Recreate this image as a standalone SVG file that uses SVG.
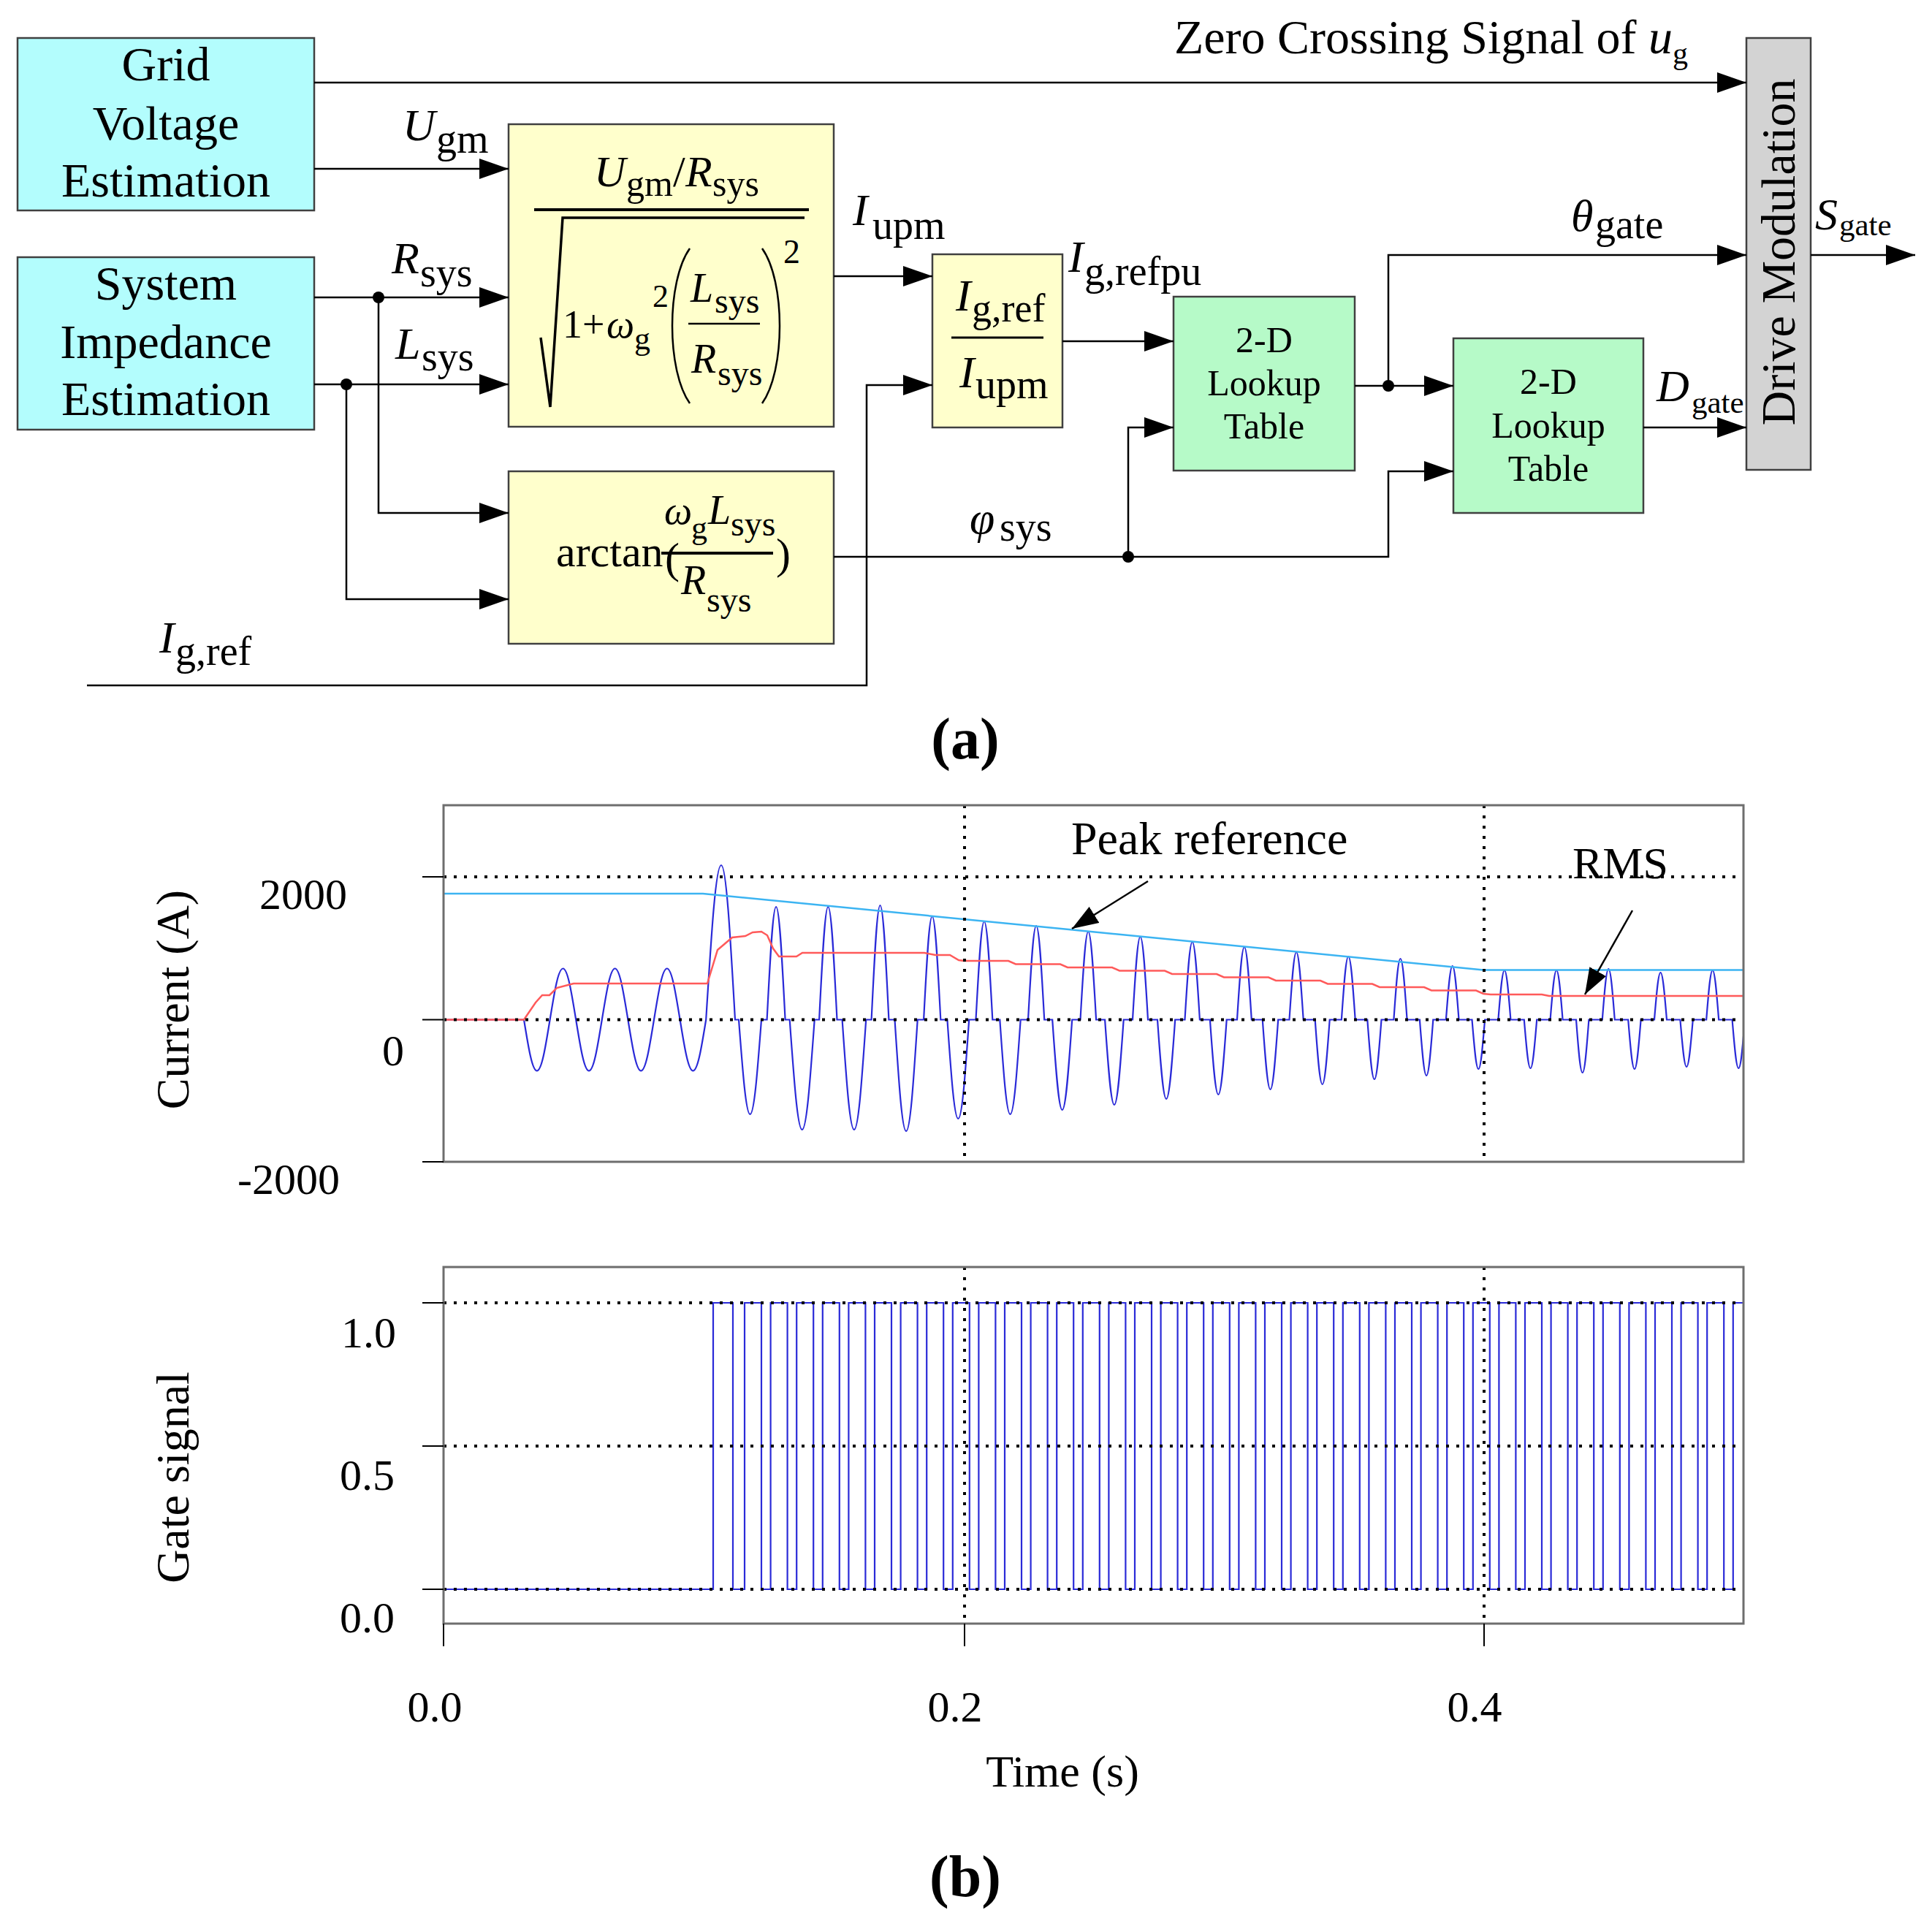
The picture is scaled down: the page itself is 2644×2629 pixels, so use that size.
<svg xmlns="http://www.w3.org/2000/svg" width="2644" height="2629" viewBox="0 0 2644 2629">
<style>
text{font-family:"Liberation Serif","Times New Roman",serif;fill:#000}
.lbl{font-size:66px}
.v{font-size:62px;font-style:italic}
.s{font-size:56px;font-style:normal}
.c{text-anchor:middle}
.cyan{fill:#b3fdfd;stroke:#404040;stroke-width:2.5}
.yel{fill:#ffffcc;stroke:#404040;stroke-width:2.5}
.grn{fill:#b6fac8;stroke:#404040;stroke-width:2.5}
.gry{fill:#d3d3d3;stroke:#404040;stroke-width:2.5}
.wire{fill:none;stroke:#000;stroke-width:2.5}
.arr{marker-end:url(#ah)}
.arr2{marker-end:url(#ah2)}
.frame{fill:none;stroke:#6e6e6e;stroke-width:3}
.grid{fill:none;stroke:#000;stroke-width:4;stroke-dasharray:4 10}
.tick{fill:none;stroke:#000;stroke-width:2}
.eq{fill:none;stroke:#000}
</style>
<defs>
<marker id="ah" markerUnits="userSpaceOnUse" markerWidth="40" markerHeight="28" refX="40" refY="14" orient="auto" viewBox="0 0 40 28"><path d="M0,0 L40,14 L0,28 Z" fill="#000"/></marker>
<marker id="ah2" markerUnits="userSpaceOnUse" markerWidth="36" markerHeight="26" refX="36" refY="13" orient="auto" viewBox="0 0 36 26"><path d="M0,0 L36,13 L0,26 Z" fill="#000"/></marker>
<clipPath id="clip1"><rect x="607" y="1102" width="1779" height="488"/></clipPath>
<clipPath id="clip2"><rect x="607" y="1734" width="1779" height="488"/></clipPath>
</defs>
<rect x="0" y="0" width="2644" height="2629" fill="#fff"/>

<!-- ===== Part (a): block diagram ===== -->
<g id="grid-voltage-estimation">
<rect class="cyan" x="24" y="52" width="406" height="236"/>
<text class="lbl c" x="227" y="110">Grid</text>
<text class="lbl c" x="227" y="191">Voltage</text>
<text class="lbl c" x="227" y="269">Estimation</text>
</g>
<g id="system-impedance-estimation">
<rect class="cyan" x="24" y="352" width="406" height="236"/>
<text class="lbl c" x="227" y="410">System</text>
<text class="lbl c" x="227" y="490">Impedance</text>
<text class="lbl c" x="227" y="568">Estimation</text>
</g>
<g id="peak-current-block">
<rect class="yel" x="696" y="170" width="445" height="414"/>
<text font-size="60"><tspan x="813" y="255" font-style="italic">U</tspan><tspan x="857" y="268" font-size="50">gm</tspan><tspan x="921" y="255">/</tspan><tspan x="938" y="255" font-style="italic">R</tspan><tspan x="975" y="268" font-size="50">sys</tspan></text>
<line class="eq" x1="731" y1="287" x2="1107" y2="287" stroke-width="4"/>
<polyline class="eq" points="740,462 753,557 770,298 1101,298" stroke-width="3.5"/>
<text font-size="54"><tspan x="770" y="462">1+</tspan><tspan x="830" y="462" font-style="italic">ω</tspan><tspan x="868" y="478" font-size="44">g</tspan><tspan x="893" y="420" font-size="44">2</tspan></text>
<path class="eq" d="M944,340 C912,385 912,507 944,552" stroke-width="2.5"/>
<path class="eq" d="M1043,340 C1075,385 1075,507 1043,552" stroke-width="2.5"/>
<text x="1072" y="360" font-size="46">2</text>
<text font-size="56"><tspan x="945" y="413" font-style="italic">L</tspan><tspan x="978" y="428" font-size="48">sys</tspan></text>
<line class="eq" x1="942" y1="443" x2="1040" y2="443" stroke-width="2.5"/>
<text font-size="56"><tspan x="946" y="510" font-style="italic">R</tspan><tspan x="982" y="527" font-size="48">sys</tspan></text>
</g>
<g id="phase-angle-block">
<rect class="yel" x="696" y="645" width="445" height="236"/>
<text font-size="60"><tspan x="761" y="775">arctan</tspan><tspan x="910" y="784">(</tspan><tspan x="1062" y="778">)</tspan></text>
<text font-size="54"><tspan x="909" y="717" font-style="italic">ω</tspan><tspan x="946" y="737" font-size="44">g</tspan><tspan x="969" y="717" font-size="56" font-style="italic">L</tspan><tspan x="1000" y="733" font-size="48">sys</tspan></text>
<line class="eq" x1="905" y1="757" x2="1058" y2="757" stroke-width="4"/>
<text font-size="56"><tspan x="932" y="813" font-style="italic">R</tspan><tspan x="967" y="837" font-size="48">sys</tspan></text>
</g>
<g id="per-unit-block">
<rect class="yel" x="1276" y="348" width="178" height="237"/>
<text class="v"><tspan x="1308" y="425">I</tspan><tspan x="1330" y="440" font-size="54" font-style="normal">g,ref</tspan></text>
<line class="eq" x1="1302" y1="462" x2="1428" y2="462" stroke-width="3"/>
<text class="v"><tspan x="1313" y="530">I</tspan><tspan class="s" x="1335" y="545">upm</tspan></text>
</g>
<g id="lookup-table-1">
<rect class="grn" x="1606" y="406" width="248" height="238"/>
<text class="c" x="1730" y="482" font-size="50">2-D</text>
<text class="c" x="1730" y="541" font-size="50">Lookup</text>
<text class="c" x="1730" y="600" font-size="50">Table</text>
</g>
<g id="lookup-table-2">
<rect class="grn" x="1989" y="463" width="260" height="239"/>
<text class="c" x="2119" y="539" font-size="50">2-D</text>
<text class="c" x="2119" y="599" font-size="50">Lookup</text>
<text class="c" x="2119" y="658" font-size="50">Table</text>
</g>
<g id="drive-modulation">
<rect class="gry" x="2390" y="52" width="88" height="591"/>
<text class="lbl c" transform="translate(2456,345) rotate(-90)" x="0" y="0">Drive Modulation</text>
</g>

<g id="connectors">
<path class="wire arr" d="M430,113 H2390"/>
<path class="wire arr" d="M430,231 H696"/>
<path class="wire arr" d="M430,407 H696"/>
<path class="wire arr" d="M430,526 H696"/>
<path class="wire arr" d="M518,407 V702 H696"/>
<path class="wire arr" d="M474,526 V820 H696"/>
<path class="wire arr" d="M1141,378 H1276"/>
<path class="wire arr" d="M119,938 H1186 V527 H1276"/>
<path class="wire arr" d="M1454,467 H1606"/>
<path class="wire arr" d="M1141,762 H1900 V645 H1989"/>
<path class="wire arr" d="M1544,762 V585 H1606"/>
<path class="wire arr" d="M1854,528 H1989"/>
<path class="wire arr" d="M1900,528 V349 H2390"/>
<path class="wire arr" d="M2249,585 H2390"/>
<path class="wire arr" d="M2478,349 H2621"/>
<circle cx="518" cy="407" r="8"/>
<circle cx="474" cy="526" r="8"/>
<circle cx="1544" cy="762" r="8"/>
<circle cx="1900" cy="528" r="8"/>
</g>

<g id="signal-labels">
<text class="lbl" x="1607" y="73">Zero Crossing Signal of <tspan font-style="italic">u</tspan><tspan font-size="42" dy="14">g</tspan></text>
<text class="v"><tspan x="551" y="192">U</tspan><tspan class="s" x="597" y="209">gm</tspan></text>
<text class="v"><tspan x="536" y="374">R</tspan><tspan class="s" x="575" y="392">sys</tspan></text>
<text class="v"><tspan x="541" y="491">L</tspan><tspan class="s" x="577" y="507">sys</tspan></text>
<text class="v"><tspan x="1167" y="308">I</tspan><tspan class="s" x="1194" y="327">upm</tspan></text>
<text class="v"><tspan x="1462" y="372">I</tspan><tspan class="s" x="1484" y="390">g,refpu</tspan></text>
<text class="v"><tspan x="2150" y="316">θ</tspan><tspan class="s" x="2183" y="326">gate</tspan></text>
<text class="v"><tspan x="2484" y="314">S</tspan><tspan x="2517" y="322" font-size="43" font-style="normal">gate</tspan></text>
<text class="v"><tspan x="2267" y="549">D</tspan><tspan x="2315" y="565" font-size="43" font-style="normal">gate</tspan></text>
<text class="v"><tspan x="1327" y="730">φ</tspan><tspan class="s" x="1368" y="740">sys</tspan></text>
<text class="v"><tspan x="218" y="893">I</tspan><tspan class="s" x="240" y="910">g,ref</tspan></text>
</g>
<text id="label-a" class="c" x="1321" y="1038" font-size="80" font-weight="bold">(a)</text>

<!-- ===== Part (b): plots ===== -->
<g id="plot-current">
<g clip-path="url(#clip1)">
<path fill="none" stroke="#2a2ad8" stroke-width="2.2" d="M607,1395.5 H717
c6.41,39.55 11.39,70 17.8,70 c6.41,0 11.39,-30.45 17.8,-70
c6.41,-39.55 11.39,-70 17.8,-70 c6.41,0 11.39,30.45 17.8,70
c6.41,39.55 11.39,70 17.8,70 c6.41,0 11.39,-30.45 17.8,-70
c6.41,-39.55 11.39,-70 17.8,-70 c6.41,0 11.39,30.45 17.8,70
c6.41,39.55 11.39,70 17.8,70 c6.41,0 11.39,-30.45 17.8,-70
c6.41,-39.55 11.39,-70 17.8,-70 c6.41,0 11.39,30.45 17.8,70
c6.41,39.55 11.39,70 17.8,70 c6.41,0 11.39,-30.45 17.8,-70
c7.49,-119.5 13.31,-211.5 20.8,-211.5 c6.84,0 12.16,92 19,211.5
H1011 c5.58,73.17 9.92,129.5 15.5,129.5 c5.58,0 9.92,-56.33 15.5,-129.5
H1049.6 c4.5,-87.29 8,-154.5 12.5,-154.5 c4.5,0 8,67.21 12.5,154.5
H1080.7 c6.12,85.03 10.88,150.5 17,150.5 c6.12,0 10.88,-65.47 17,-150.5
H1121.1 c4.39,-87.29 7.81,-154.5 12.2,-154.5 c4.39,0 7.81,67.21 12.2,154.5
H1152.6 c5.87,85.03 10.43,150.5 16.3,150.5 c5.87,0 10.43,-65.47 16.3,-150.5
H1192.6 c4.28,-88.42 7.62,-156.5 11.9,-156.5 c4.28,0 7.62,68.08 11.9,156.5
H1224.5 c5.62,86.16 9.98,152.5 15.6,152.5 c5.62,0 9.98,-66.34 15.6,-152.5
H1264.1 c4.18,-79.95 7.42,-141.5 11.6,-141.5 c4.18,0 7.42,61.55 11.6,141.5
H1296.4 c5.36,76.56 9.54,135.5 14.9,135.5 c5.36,0 9.54,-58.94 14.9,-135.5
H1335.5 c4.1,-75.99 7.3,-134.5 11.4,-134.5 c4.1,0 7.3,58.51 11.4,134.5
H1368.3 c5.11,73.17 9.09,129.5 14.2,129.5 c5.11,0 9.09,-56.33 14.2,-129.5
H1407 c4,-72.6 7.1,-128.5 11.1,-128.5 c4,0 7.1,55.9 11.1,128.5
H1440.2 c4.86,69.78 8.64,123.5 13.5,123.5 c4.86,0 8.64,-53.72 13.5,-123.5
H1478.5 c3.89,-68.08 6.91,-120.5 10.8,-120.5 c3.89,0 6.91,52.42 10.8,120.5
H1512.1 c4.61,65.82 8.19,116.5 12.8,116.5 c4.61,0 8.19,-50.68 12.8,-116.5
H1550 c3.78,-64.13 6.72,-113.5 10.5,-113.5 c3.78,0 6.72,49.37 10.5,113.5
H1584 c4.36,61.3 7.74,108.5 12.1,108.5 c4.36,0 7.74,-47.2 12.1,-108.5
H1621.5 c3.67,-60.17 6.53,-106.5 10.2,-106.5 c3.67,0 6.53,46.33 10.2,106.5
H1655.9 c4.1,57.91 7.3,102.5 11.4,102.5 c4.1,0 7.3,-44.59 11.4,-102.5
H1693 c3.56,-56.22 6.34,-99.5 9.9,-99.5 c3.56,0 6.34,43.28 9.9,99.5
H1727.8 c3.85,53.96 6.85,95.5 10.7,95.5 c3.85,0 6.85,-41.54 10.7,-95.5
H1764.5 c3.46,-52.26 6.14,-92.5 9.6,-92.5 c3.46,0 6.14,40.24 9.6,92.5
H1799.7 c3.6,50 6.4,88.5 10,88.5 c3.6,0 6.4,-38.5 10,-88.5
H1835.9 c3.38,-48.87 6.02,-86.5 9.4,-86.5 c3.38,0 6.02,37.63 9.4,86.5
H1871.3 c3.46,46.05 6.14,81.5 9.6,81.5 c3.46,0 6.14,-35.45 9.6,-81.5
H1907.4 c3.28,-47.18 5.82,-83.5 9.1,-83.5 c3.28,0 5.82,36.32 9.1,83.5
H1942.9 c3.31,43.22 5.89,76.5 9.2,76.5 c3.31,0 5.89,-33.28 9.2,-76.5
H1978.9 c3.17,-41.53 5.63,-73.5 8.8,-73.5 c3.17,0 5.63,31.97 8.8,73.5
H2014.5 c3.17,38.14 5.63,67.5 8.8,67.5 c3.17,0 5.63,-29.36 8.8,-67.5
H2050.4 c3.06,-38.14 5.44,-67.5 8.5,-67.5 c3.06,0 5.44,29.36 8.5,67.5
H2085.8 c3.13,37.57 5.57,66.5 8.7,66.5 c3.13,0 5.57,-28.93 8.7,-66.5
H2121.6 c3.06,-38.14 5.44,-67.5 8.5,-67.5 c3.06,0 5.44,29.36 8.5,67.5
H2157 c3.13,40.96 5.57,72.5 8.7,72.5 c3.13,0 5.57,-31.54 8.7,-72.5
H2192.8 c3.06,-39.27 5.44,-69.5 8.5,-69.5 c3.06,0 5.44,30.23 8.5,69.5
H2228.2 c3.13,38.14 5.57,67.5 8.7,67.5 c3.13,0 5.57,-29.36 8.7,-67.5
H2264 c3.06,-36.44 5.44,-64.5 8.5,-64.5 c3.06,0 5.44,28.06 8.5,64.5
H2299.4 c3.13,36.44 5.57,64.5 8.7,64.5 c3.13,0 5.57,-28.06 8.7,-64.5
H2335.2 c3.06,-38.14 5.44,-67.5 8.5,-67.5 c3.06,0 5.44,29.36 8.5,67.5
H2370.6 c3.13,37.57 5.57,66.5 8.7,66.5 c3.13,0 5.57,-28.93 8.7,-66.5 H2400"/>
<path fill="none" stroke="#ff5a5a" stroke-width="2.5" d="M607,1395.5 H717 L733,1372 L742,1362 H752 L762,1352 L785,1346 H968 L982,1300 L1002,1283 L1020,1281 L1030,1276 L1042,1275 L1050,1280 L1058,1298 L1066,1309 H1090 L1098,1304 H1265 L1280,1307 H1300 L1312,1314 L1319,1315 H1380 L1390,1319.5 H1451 L1461,1324 H1522 L1532,1328.5 H1594 L1604,1333 H1665 L1675,1337.5 H1736 L1746,1342 H1807 L1817,1346.5 H1878 L1888,1351 H1949 L1959,1355.5 H2020 L2030,1360 L2040,1361 H2110 L2120,1363 H2390"/>
<path fill="none" stroke="#3cb4f2" stroke-width="2.5" d="M607,1223 H962 L2030,1327.5 H2390"/>
</g>
<path class="grid" d="M607,1200 H2386 M607,1395.5 H2386 M1320,1102 V1590 M2031,1102 V1590"/>
<rect class="frame" x="607" y="1102" width="1779" height="488"/>
<path class="tick" d="M578,1200 H607 M578,1395.5 H607 M578,1590 H607"/>
<line class="wire arr2" x1="1571" y1="1206" x2="1467" y2="1271" stroke-width="2"/>
<line class="wire arr2" x1="2234" y1="1246" x2="2169" y2="1361" stroke-width="2"/>
<text x="1466" y="1169" font-size="64">Peak reference</text>
<text x="2152" y="1202" font-size="62">RMS</text>
<text x="355" y="1244" font-size="60">2000</text>
<text x="523" y="1458" font-size="60">0</text>
<text x="325" y="1634" font-size="60">-2000</text>
<text class="c" transform="translate(258,1368) rotate(-90)" font-size="64">Current (A)</text>
</g>

<g id="plot-gate">
<g clip-path="url(#clip2)">
<path fill="none" stroke="#2a2ad8" stroke-width="2.2" d="M607,2175 H976 V1783 H1003 V2175 H1019
V1783 h23 V2175 h12.6 V1783 h23 V2175 h12.6 V1783 h23 V2175 h12.6 V1783 h23 V2175 h12.6 V1783 h23 V2175 h12.6
V1783 h23 V2175 h12.6 V1783 h23 V2175 h12.6 V1783 h23 V2175 h12.6 V1783 h23 V2175 h12.6 V1783 h23 V2175 h12.6
V1783 h23 V2175 h12.6 V1783 h23 V2175 h12.6 V1783 h23 V2175 h12.6 V1783 h23 V2175 h12.6 V1783 h23 V2175 h12.6
V1783 h23 V2175 h12.6 V1783 h23 V2175 h12.6 V1783 h23 V2175 h12.6 V1783 h23 V2175 h12.6 V1783 h23 V2175 h12.6
V1783 h23 V2175 h12.6 V1783 h23 V2175 h12.6 V1783 h23 V2175 h12.6 V1783 h23 V2175 h12.6 V1783 h23 V2175 h12.6
V1783 h23 V2175 h12.6 V1783 h23 V2175 h12.6 V1783 h23 V2175 h12.6 V1783 h23 V2175 h12.6 V1783 h23 V2175 h12.6
V1783 h23 V2175 h12.6 V1783 h23 V2175 h12.6 V1783 h23 V2175 h12.6 V1783 h23 V2175 h12.6 V1783 h23 V2175 h12.6
V1783 h23 V2175 h12.6 V1783 h23 V2175 h12.6 V1783 h23 V2175 h12.6
V1783 H2390"/>
</g>
<path class="grid" d="M607,1783 H2386 M607,1979 H2386 M607,2175 H2386 M1320,1734 V2222 M2031,1734 V2222"/>
<rect class="frame" x="607" y="1734" width="1779" height="488"/>
<path class="tick" d="M578,1783 H607 M578,1979 H607 M578,2175 H607 M607,2222 V2253 M1320,2222 V2253 M2031,2222 V2253"/>
<text x="467" y="1844" font-size="60">1.0</text>
<text x="465" y="2039" font-size="60">0.5</text>
<text x="465" y="2234" font-size="60">0.0</text>
<text class="c" transform="translate(258,2022) rotate(-90)" font-size="64">Gate signal</text>
<text class="c" x="595" y="2356" font-size="60">0.0</text>
<text class="c" x="1307" y="2356" font-size="60">0.2</text>
<text class="c" x="2018" y="2356" font-size="60">0.4</text>
<text class="c" x="1454" y="2445" font-size="62">Time (s)</text>
</g>
<text id="label-b" class="c" x="1321" y="2595" font-size="80" font-weight="bold">(b)</text>
</svg>
